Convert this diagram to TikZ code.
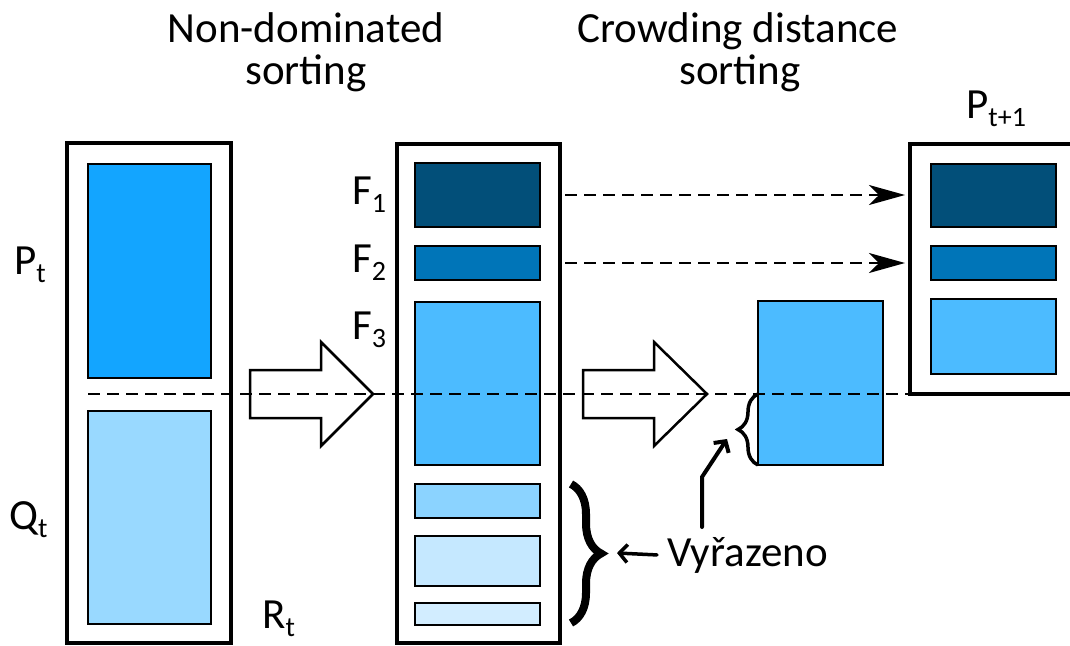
\documentclass[tikz,border=0pt]{standalone}
\usepackage{fontspec}
\setmainfont{Carlito}
\usetikzlibrary{arrows.meta,decorations.pathreplacing}
\definecolor{cP}{RGB}{19,165,255}
\definecolor{cQ}{RGB}{153,217,255}
\definecolor{cFa}{RGB}{2,79,121}
\definecolor{cFb}{RGB}{0,117,184}
\definecolor{cFc}{RGB}{76,187,255}
\definecolor{cFd}{RGB}{139,211,255}
\definecolor{cFe}{RGB}{197,232,255}
\definecolor{cFf}{RGB}{210,237,255}
\newcommand\sbx[1]{\raisebox{-8pt}{\fontsize{28}{28}\selectfont #1}}
\begin{document}
\begin{tikzpicture}[x=1pt,y=-1pt,
  outerbox/.style={draw,line width=3.5pt,fill=white,inner sep=0pt,outer sep=0pt},
  blk/.style={draw,line width=2.5pt,inner sep=0pt,outer sep=0pt},
  lbl/.style={font=\fontsize{43}{43}\selectfont,inner sep=0pt,anchor=base west},
  ttl/.style={font=\fontsize{43}{43}\selectfont,inner sep=0pt,anchor=base},
  hollow/.style={draw,line width=2.5pt,fill=white,line join=miter},
  dline/.style={line width=2pt,dash pattern=on 12pt off 7pt},
  darrow/.style={line width=2pt,dash pattern=on 12pt off 7pt,-{Stealth[length=36pt,width=20pt,inset=10pt]}},
  barb/.style={-{Straight Barb[length=8pt,width=18pt]},line cap=round,line join=miter}
]
\useasboundingbox (0,0) rectangle (1070,645);
\clip (0,0) rectangle (1070,645);

% titles
\node[ttl] (t1a) at (306,42) {Non-dominated};
\node[ttl] (t1b) at (306,84) {sorting};
\node[ttl] (t2a) at (738,42) {Crowding distance};
\node[ttl] (t2b) at (740,84) {sorting};

% left column R_t
\node[outerbox,minimum width=164pt,minimum height=500pt] (R) at (149,393) {};
\node[blk,fill=cP,minimum width=123pt,minimum height=214pt] (p) at (149.5,271) {};
\node[blk,fill=cQ,minimum width=123pt,minimum height=213pt] (q) at (149.5,517.5) {};
\node[lbl] (lp) at (14,274) {P\sbx{t}};
\node[lbl] (lq) at (9,529) {Q\sbx{t}};
\node[lbl] (lr) at (262,628) {R\sbx{t}};

% middle column
\node[outerbox,minimum width=163pt,minimum height=499pt] (M) at (478.5,393.5) {};
\node[blk,fill=cFa,minimum width=125pt,minimum height=64pt] (f1) at (477.5,195) {};
\node[blk,fill=cFb,minimum width=125pt,minimum height=34pt] (f2) at (477.5,263) {};
\node[blk,fill=cFc,minimum width=125pt,minimum height=163pt] (f3) at (477.5,383.5) {};
\node[blk,fill=cFd,minimum width=125pt,minimum height=34pt] (f4) at (477.5,501) {};
\node[blk,fill=cFe,minimum width=125pt,minimum height=50pt] (f5) at (477.5,561) {};
\node[blk,fill=cFf,minimum width=125pt,minimum height=22pt] (f6) at (477.5,614) {};
\node[lbl] (lf1) at (352,204) {F\sbx{1}};
\node[lbl] (lf2) at (352,272) {F\sbx{2}};
\node[lbl] (lf3) at (352,339) {F\sbx{3}};

% F3 copy being cut
\node[blk,fill=cFc,minimum width=125pt,minimum height=164pt] (f3c) at (820.5,383) {};

% right column P_{t+1}
\node[outerbox,minimum width=180pt,minimum height=250pt] (N) at (1000,269) {};
\node[blk,fill=cFa,minimum width=125pt,minimum height=63pt] (n1) at (993.5,195.5) {};
\node[blk,fill=cFb,minimum width=125pt,minimum height=34pt] (n2) at (993.5,263) {};
\node[blk,fill=cFc,minimum width=125pt,minimum height=75pt] (n3) at (993.5,336.5) {};
\node[lbl] (ln) at (966,118) {P\sbx{t+1}};

% hollow arrows
\draw[hollow] (250,370) -- (321,370) -- (321,342) -- (373,394) -- (321,446) -- (321,418) -- (250,418) -- cycle;
\draw[hollow] (583,370) -- (654,370) -- (654,342) -- (707,394) -- (654,446) -- (654,418) -- (583,418) -- cycle;

% dashed arrows F1, F2 -> P_{t+1}
\draw[darrow,shorten >=5pt] ([xshift=25pt]f1.east) -- (N.west |- f1.east);
\draw[darrow,shorten >=5pt] ([xshift=25pt]f2.east) -- (N.west |- f2.east);

% cut line
\draw[dline] (p.west |- N.south west) -- (N.south west);

% braces
\draw[line width=8pt,decorate,decoration={brace,amplitude=30pt}] (571,484) -- (571,623);
\draw[line width=3.5pt,decorate,decoration={brace,amplitude=20pt}] (f3c.south west) -- (f3c.west |- N.south);
\coordinate (bt) at (602,553);
\coordinate (st) at (727,439);

% discarded label and arrows
\node[lbl] (v) at (667,566) {Vyřazeno};
\draw[barb,line width=3.5pt] ([xshift=-10pt]v.west) -- ([xshift=15pt]bt);
\draw[barb,line width=4pt] (702,527) -- (702,477) -- (st);
\end{tikzpicture}
\end{document}
